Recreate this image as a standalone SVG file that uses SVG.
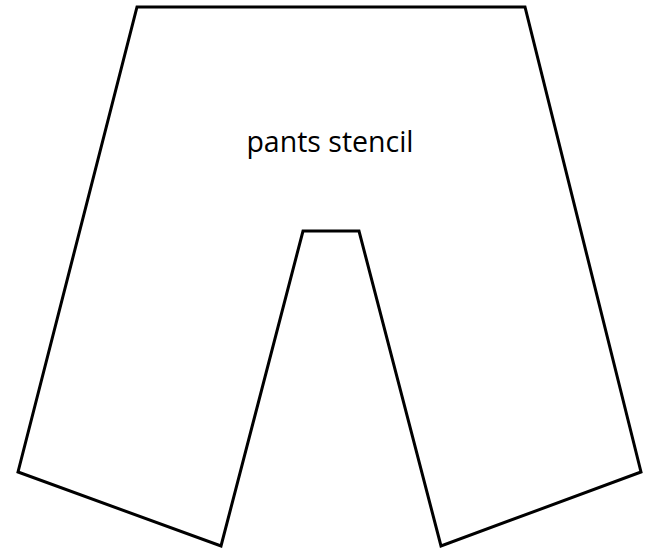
<svg xmlns="http://www.w3.org/2000/svg" width="645" height="550" viewBox="0 0 645 550">
<style>
.outline{fill:#ffffff;stroke:#000000;stroke-width:3;stroke-linejoin:miter}
.label{font-family:"Open Sans","Noto Sans",sans-serif;font-size:28.5px;fill:#000000}
</style>
<rect width="645" height="550" fill="#ffffff"/>
<g id="pants">
<polygon class="outline" points="137,7 525,7 641,472 441,546 359,231 303,231 221,546 18,472"/>
<text class="label" x="330" y="152" text-anchor="middle">pants stencil</text>
</g>
</svg>
